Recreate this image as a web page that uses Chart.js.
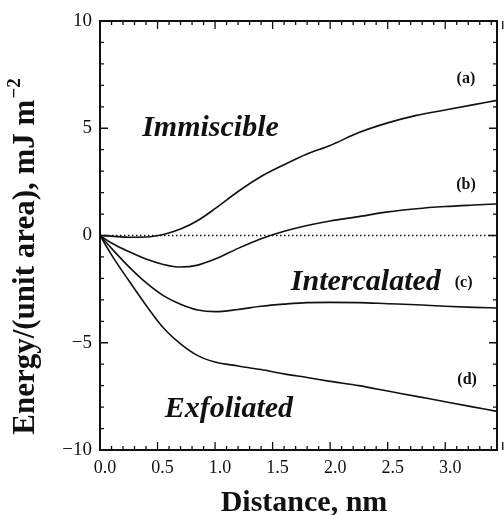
<!DOCTYPE html>
<html>
<head>
<meta charset="utf-8">
<script src="https://cdn.jsdelivr.net/npm/chart.js@4.4.1/dist/chart.umd.min.js"></script>
<style>
  html, body { margin: 0; padding: 0; background: #fff; }
  #wrap { width: 504px; height: 515px; }
</style>
</head>
<body>
<div id="wrap"><canvas id="chart"></canvas></div>
<script>
// -------------------- Data --------------------
const distance = [0, 0.1, 0.25, 0.4, 0.55, 0.7, 0.85, 1.0, 1.2, 1.4, 1.6, 1.8, 2.0, 2.25, 2.5, 2.75, 3.0, 3.25, 3.45];
const curveA = [0, -0.03, -0.08, -0.07, 0.05, 0.3, 0.7, 1.25, 2.05, 2.75, 3.3, 3.8, 4.2, 4.8, 5.25, 5.6, 5.85, 6.1, 6.3];
const curveB = [0, -0.35, -0.75, -1.1, -1.35, -1.47, -1.38, -1.1, -0.6, -0.15, 0.2, 0.47, 0.68, 0.88, 1.1, 1.25, 1.35, 1.42, 1.47];
const curveC = [0, -0.6, -1.45, -2.2, -2.8, -3.2, -3.47, -3.55, -3.45, -3.3, -3.2, -3.13, -3.12, -3.13, -3.18, -3.23, -3.3, -3.35, -3.38];
const curveD = [0, -0.9, -2.1, -3.25, -4.3, -5.05, -5.6, -5.9, -6.08, -6.25, -6.45, -6.62, -6.8, -7.0, -7.25, -7.5, -7.75, -8.0, -8.2];
const zeroLine = [[0, 0], [3.45, 0]];

const curveNames = ["(a)", "(b)", "(c)", "(d)"];
const curveLabelPos = [[3.18, 7.28], [3.18, 2.35], [3.16, -2.2], [3.19, -6.72]];
const regionNames = ["Immiscible", "Intercalated", "Exfoliated"];
const regionPos = [[0.96, 5.0], [2.31, -2.2], [1.12, -8.1]];

const xMin = 0, xMax = 3.45, yMin = -10, yMax = 10;
const ink = "#111";
const serif = "'Liberation Serif', 'DejaVu Serif', serif";

function pts(ys) {
  return distance.map((x, i) => ({ x: x, y: ys[i] }));
}

function curve(ys) {
  return {
    data: pts(ys),
    borderColor: ink,
    borderWidth: 1.6,
    pointRadius: 0,
    showLine: true,
    cubicInterpolationMode: "monotone",
  };
}

// -------------------- Frame, inward ticks, text --------------------
const decorations = {
  id: "decorations",
  afterDatasetsDraw(chart) {
    const { ctx, chartArea: a, scales } = chart;
    const sx = scales.x, sy = scales.y;
    ctx.save();
    ctx.strokeStyle = ink;
    ctx.fillStyle = ink;

    // ticks: x every 0.1 (major 0.5), y every 1 (major 5)
    ctx.lineWidth = 1.3;
    ctx.beginPath();
    for (let i = 0; i <= Math.round(xMax * 10); i++) {
      const px = sx.getPixelForValue(i / 10);
      const len = i % 5 === 0 ? 8 : 4;
      ctx.moveTo(px, a.bottom); ctx.lineTo(px, a.bottom - len);
      ctx.moveTo(px, a.top); ctx.lineTo(px, a.top + len);
    }
    for (let v = yMin; v <= yMax; v++) {
      const py = sy.getPixelForValue(v);
      const len = v % 5 === 0 ? 8 : 4;
      ctx.moveTo(a.left, py); ctx.lineTo(a.left + len, py);
      ctx.moveTo(a.right, py); ctx.lineTo(a.right - len, py);
    }
    ctx.stroke();

    // frame
    ctx.lineWidth = 2;
    ctx.strokeRect(a.left, a.top, a.right - a.left, a.bottom - a.top);

    // curve labels
    ctx.textAlign = "center";
    ctx.textBaseline = "middle";
    ctx.font = "bold 16px " + serif;
    curveNames.forEach((t, i) => {
      ctx.fillText(t, sx.getPixelForValue(curveLabelPos[i][0]), sy.getPixelForValue(curveLabelPos[i][1]));
    });

    // region labels
    ctx.font = "italic bold 30px " + serif;
    regionNames.forEach((t, i) => {
      ctx.fillText(t, sx.getPixelForValue(regionPos[i][0]), sy.getPixelForValue(regionPos[i][1]));
    });

    // x title
    ctx.font = "bold 30px " + serif;
    ctx.fillText("Distance, nm", 304, 503);

    // y title with superscript
    const main = "Energy/(unit area), mJ m";
    const sup = "\u22122";
    ctx.translate(26, 257);
    ctx.rotate(-Math.PI / 2);
    ctx.font = "bold 31px " + serif;
    const w1 = ctx.measureText(main).width;
    ctx.font = "bold 19px " + serif;
    const w2 = ctx.measureText(sup).width;
    const start = -(w1 + w2) / 2;
    ctx.textAlign = "left";
    ctx.font = "bold 31px " + serif;
    ctx.fillText(main, start, 0);
    ctx.font = "bold 19px " + serif;
    ctx.fillText(sup, start + w1 + 1, -11);

    ctx.restore();
  }
};

// -------------------- Chart --------------------
const ctx = document.getElementById("chart").getContext("2d");
const chart = new Chart(ctx, {
  type: "scatter",
  data: {
    datasets: [
      {
        data: zeroLine.map(p => ({ x: p[0], y: p[1] })),
        borderColor: ink,
        borderWidth: 1.3,
        borderDash: [1.5, 2.5],
        pointRadius: 0,
        showLine: true,
      },
      curve(curveA),
      curve(curveB),
      curve(curveC),
      curve(curveD),
    ],
  },
  options: {
    responsive: true,
    maintainAspectRatio: false,
    animation: false,
    devicePixelRatio: 1,
    layout: { padding: { top: 21, right: 2, left: 0, bottom: 0 } },
    plugins: { legend: { display: false }, tooltip: { enabled: false } },
    scales: {
      x: {
        type: "linear",
        min: xMin,
        max: xMax,
        afterFit: s => { s.height = 65; },
        grid: { display: false, drawTicks: false },
        border: { display: false },
        ticks: {
          stepSize: 0.1,
          autoSkip: false,
          maxRotation: 0,
          labelOffset: 5,
          padding: 7,
          color: ink,
          font: { family: serif, size: 18 },
          callback: v => {
            const r = Math.round(v * 10);
            return (r % 5 === 0 && r <= 30) ? (r / 10).toFixed(1) : "";
          },
        },
      },
      y: {
        min: yMin,
        max: yMax,
        afterFit: s => { s.width = 100; },
        grid: { display: false, drawTicks: false },
        border: { display: false },
        ticks: {
          stepSize: 1,
          autoSkip: false,
          padding: 8,
          color: ink,
          font: { family: serif, size: 19 },
          callback: v => {
            if (v % 5 !== 0) return "";
            return v < 0 ? "\u2212" + (-v) : String(v);
          },
        },
      },
    },
  },
  plugins: [decorations],
});
</script>
</body>
</html>
